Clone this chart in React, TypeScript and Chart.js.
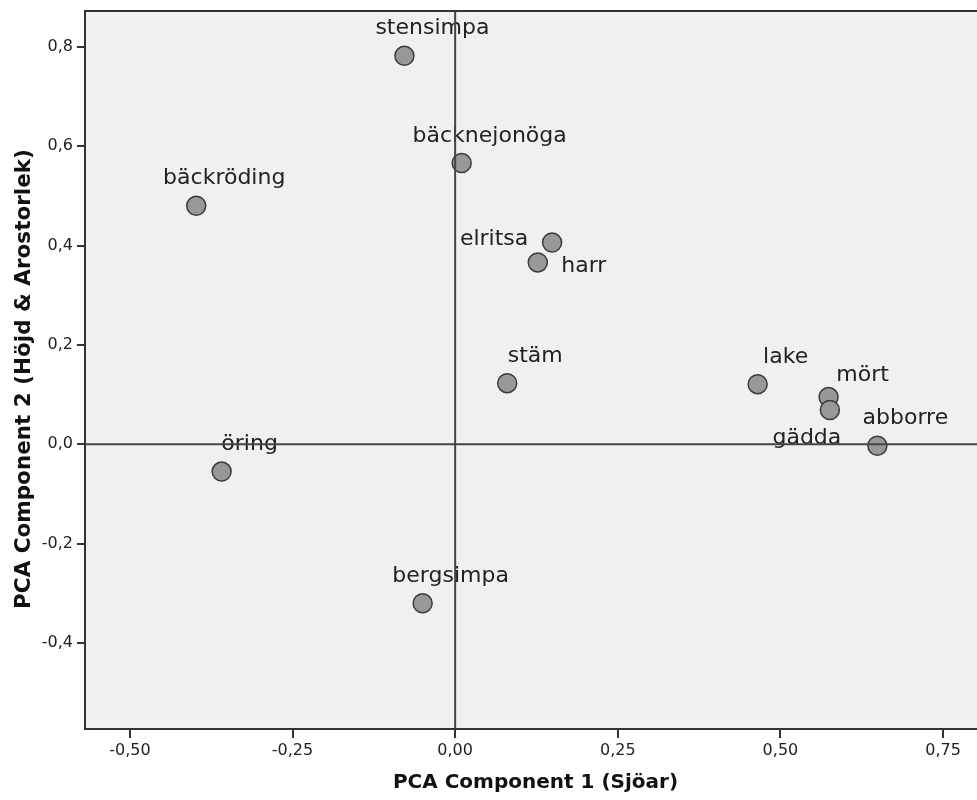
import React, { useEffect, useRef } from 'react';
import { Chart, registerables } from 'chart.js';

Chart.register(...registerables);

// ---- data ----
const SPECIES = ['stensimpa', 'bäcknejonöga', 'bäckröding', 'elritsa', 'harr', 'stäm', 'lake', 'mört', 'gädda', 'abborre', 'öring', 'bergsimpa'];
const PC1 = [-0.078, 0.010, -0.398, 0.149, 0.127, 0.080, 0.465, 0.574, 0.576, 0.649, -0.359, -0.050];
const PC2 = [0.782, 0.566, 0.480, 0.406, 0.366, 0.123, 0.121, 0.095, 0.069, -0.003, -0.055, -0.320];

const X_TICK_VALUES = [-0.5, -0.25, 0, 0.25, 0.5, 0.75];
const X_TICK_LABELS = ['-0,50', '-0,25', '0,00', '0,25', '0,50', '0,75'];
const Y_TICK_VALUES = [-0.4, -0.2, 0, 0.2, 0.4, 0.6, 0.8];
const Y_TICK_LABELS = ['-0,4', '-0,2', '0,0', '0,2', '0,4', '0,6', '0,8'];

const X_TITLE = 'PCA Component 1 (Sjöar)';
const Y_TITLE = 'PCA Component 2 (Höjd & Arostorlek)';

const X_MIN = -0.569;
const X_MAX = 0.816;
const Y_MIN = -0.573;
const Y_MAX = 0.872;

// ---- label placement (pixel offset of label centre from its point) ----
const DEFAULT_PLACEMENT: [number, number] = [28, -27];
const LABEL_PLACEMENT: Record<string, [number, number]> = {
  elritsa: [-58, -3],
  harr: [46, 4],
  'mört': [34, -22],
  'gädda': [-23, 28],
};

const decorPlugin = {
  id: 'pcaDecor',
  beforeDraw(chart: any) {
    const { ctx, chartArea } = chart;
    const { left, top, right, bottom } = chartArea;
    ctx.save();
    ctx.fillStyle = '#f0f0f0';
    ctx.fillRect(left, top, right - left, bottom - top);
    ctx.restore();
  },
  afterDatasetsDraw(chart: any) {
    const { ctx, chartArea } = chart;
    const { left, top, right, bottom } = chartArea;
    const meta = chart.getDatasetMeta(0);
    ctx.save();
    ctx.font = '22px "DejaVu Sans"';
    ctx.fillStyle = '#222';
    ctx.textAlign = 'center';
    ctx.textBaseline = 'middle';
    meta.data.forEach((el: any, i: number) => {
      const name = SPECIES[i];
      const [dx, dy] = LABEL_PLACEMENT[name] ?? DEFAULT_PLACEMENT;
      ctx.fillText(name, el.x + dx, el.y + dy);
    });

    const x0 = chart.scales.x.getPixelForValue(0);
    const y0 = chart.scales.y.getPixelForValue(0);
    ctx.strokeStyle = '#444';
    ctx.lineWidth = 2;
    ctx.beginPath();
    ctx.moveTo(x0, top);
    ctx.lineTo(x0, bottom);
    ctx.moveTo(left, y0);
    ctx.lineTo(right, y0);
    ctx.stroke();

    ctx.strokeStyle = '#333';
    ctx.lineWidth = 2;
    ctx.strokeRect(left, top, right - left, bottom - top);

    ctx.translate(24, 379);
    ctx.rotate(-Math.PI / 2);
    ctx.font = 'bold 21.5px "DejaVu Sans"';
    ctx.fillStyle = '#111';
    ctx.fillText(Y_TITLE, 0, 0);
    ctx.restore();
  },
};

const clearPadding = (scale: any) => {
  scale.paddingLeft = 0;
  scale.paddingRight = 0;
  scale.paddingTop = 0;
  scale.paddingBottom = 0;
};

export default function App() {
  const canvasRef = useRef<HTMLCanvasElement | null>(null);

  useEffect(() => {
    if (!canvasRef.current) return;
    const points = PC1.map((x, i) => ({ x, y: PC2[i] }));
    const chart = new Chart(canvasRef.current, {
      type: 'scatter',
      data: {
        datasets: [
          {
            label: 'Arter',
            data: points,
            pointRadius: 9.5,
            pointHoverRadius: 9.5,
            pointBackgroundColor: '#989898',
            pointBorderColor: '#3a3a3a',
            pointBorderWidth: 1.5,
          },
        ],
      },
      options: {
        animation: false,
        responsive: false,
        layout: { padding: { left: 0, right: 5, top: 11, bottom: 0 } },
        plugins: {
          legend: { display: false },
          tooltip: { enabled: false },
        },
        scales: {
          x: {
            type: 'linear',
            min: X_MIN,
            max: X_MAX,
            afterBuildTicks: (scale: any) => {
              scale.ticks = X_TICK_VALUES.map((value) => ({ value }));
            },
            afterFit: (scale: any) => {
              scale.height = 71;
              clearPadding(scale);
            },
            ticks: {
              autoSkip: false,
              maxRotation: 0,
              padding: 3,
              color: '#222',
              font: { family: 'DejaVu Sans', size: 16 },
              callback: (value: any) => {
                const idx = X_TICK_VALUES.findIndex((v) => Math.abs(v - Number(value)) < 1e-9);
                return idx >= 0 ? X_TICK_LABELS[idx] : '';
              },
            },
            grid: {
              display: true,
              drawOnChartArea: false,
              drawTicks: true,
              tickLength: 9,
              color: '#333',
              lineWidth: 2,
            },
            border: { display: false },
            title: {
              display: true,
              text: X_TITLE,
              color: '#111',
              font: { family: 'DejaVu Sans', size: 20, weight: 'bold' },
              padding: { top: 0, bottom: 5 },
            },
          },
          y: {
            type: 'linear',
            min: Y_MIN,
            max: Y_MAX,
            afterBuildTicks: (scale: any) => {
              scale.ticks = Y_TICK_VALUES.map((value) => ({ value }));
            },
            afterFit: (scale: any) => {
              scale.width = 85;
              clearPadding(scale);
            },
            ticks: {
              autoSkip: false,
              padding: 4,
              color: '#222',
              font: { family: 'DejaVu Sans', size: 16 },
              callback: (value: any) => {
                const idx = Y_TICK_VALUES.findIndex((v) => Math.abs(v - Number(value)) < 1e-9);
                return idx >= 0 ? Y_TICK_LABELS[idx] : '';
              },
            },
            grid: {
              display: true,
              drawOnChartArea: false,
              drawTicks: true,
              tickLength: 8,
              color: '#333',
              lineWidth: 2,
            },
            border: { display: false },
          },
        },
      },
      plugins: [decorPlugin],
    });
    return () => chart.destroy();
  }, []);

  return (
    <div
      style={{
        position: 'fixed',
        left: 0,
        top: 0,
        width: 977,
        height: 800,
        overflow: 'hidden',
        background: '#ffffff',
      }}
    >
      <canvas ref={canvasRef} width={997} height={800} style={{ width: 997, height: 800, display: 'block' }} />
    </div>
  );
}
